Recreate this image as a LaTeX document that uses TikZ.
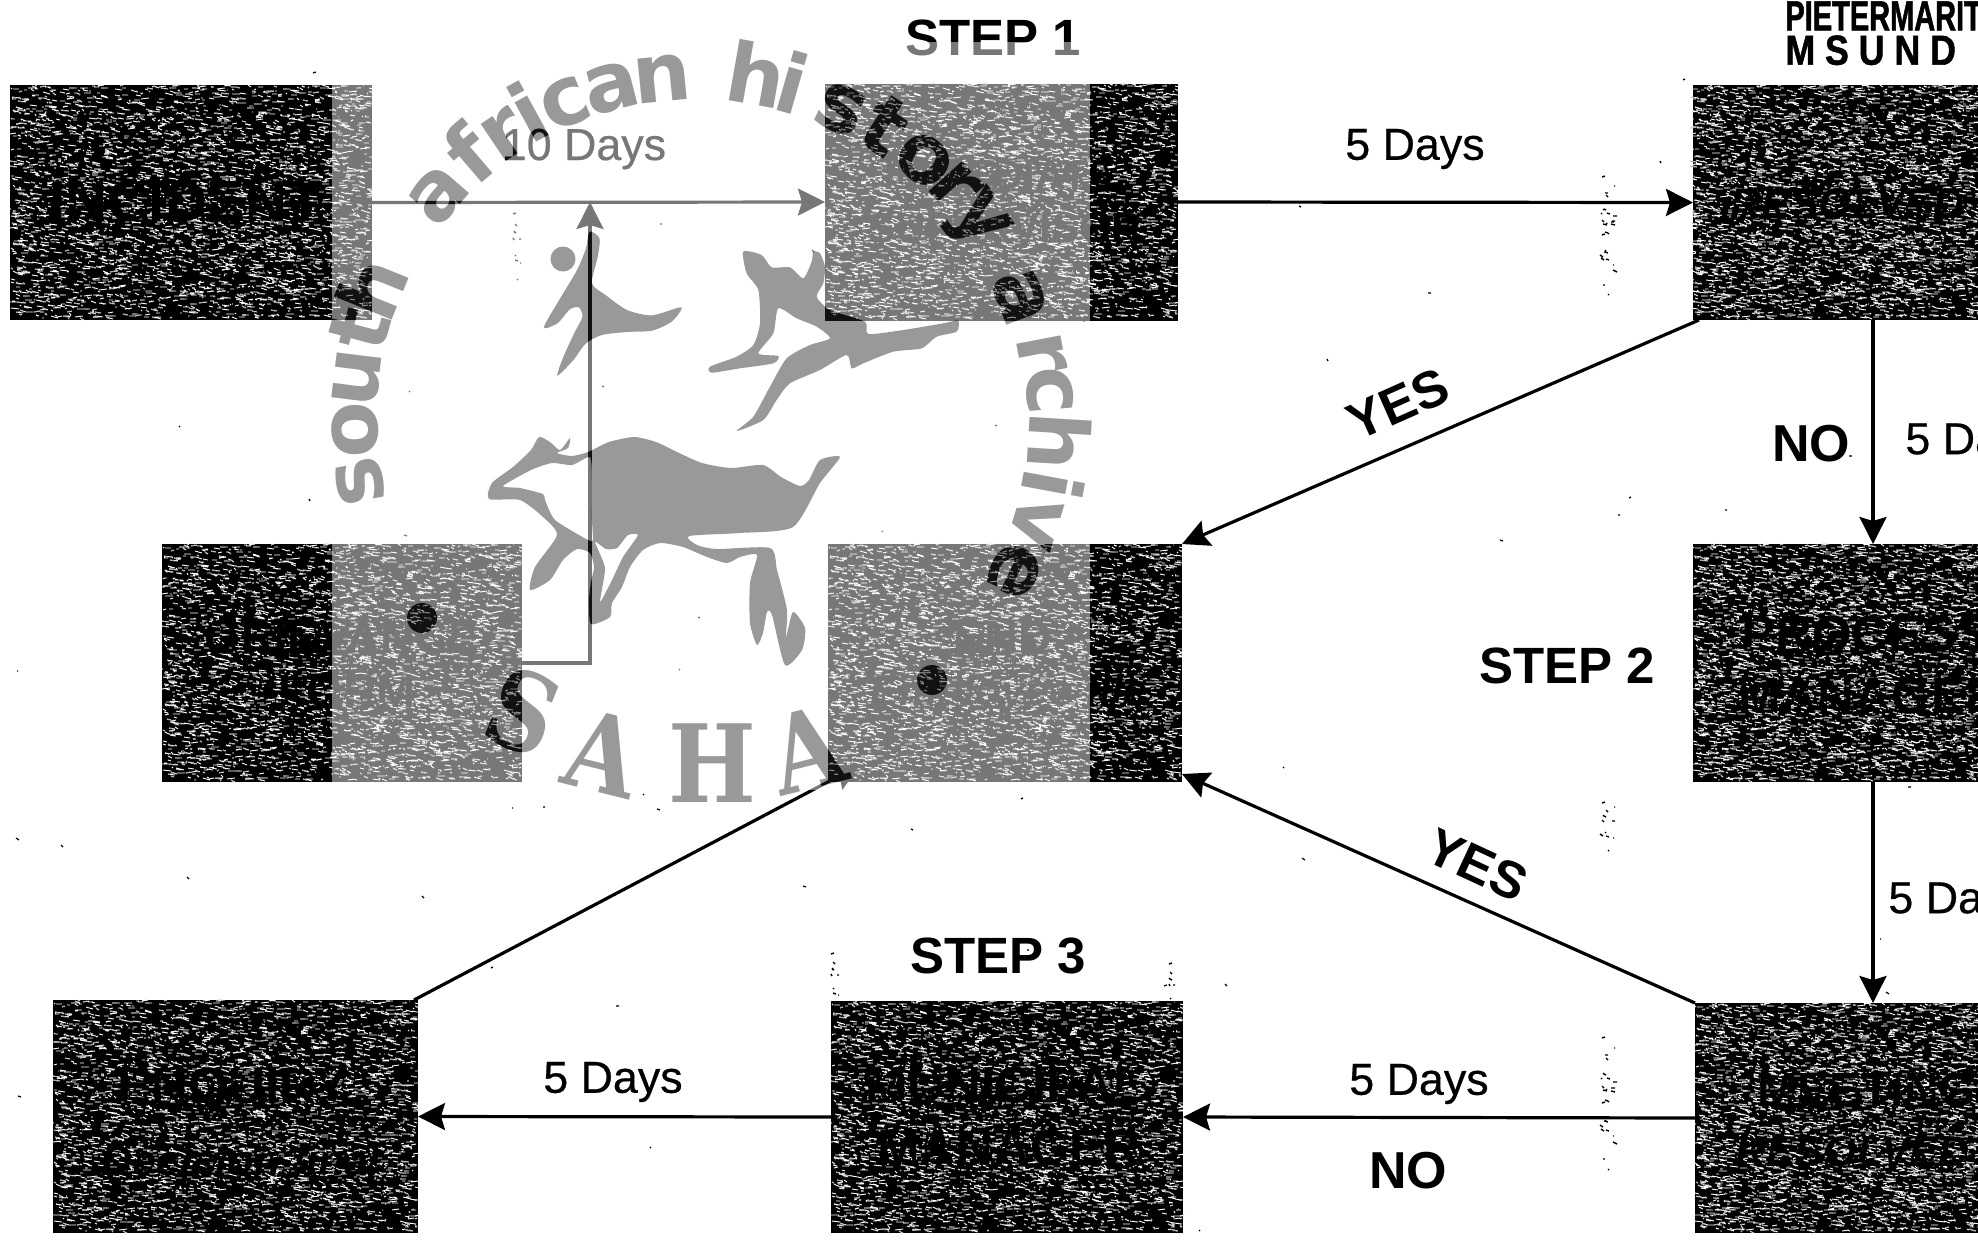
\documentclass[tikz,border=0pt]{standalone}
\usepackage{fontspec}
\usetikzlibrary{arrows.meta,calc}
\setmainfont{Liberation Sans}
\newfontfamily\daysfont[FakeBold=0.5]{Liberation Sans}
\newfontfamily\headA[FakeStretch=0.69,FakeBold=1.2]{Liberation Sans}
\newfontfamily\headB[FakeStretch=0.85,FakeBold=1.2]{Liberation Sans}
\newfontfamily\sahafont[FakeStretch=0.86]{DejaVu Serif}
\newfontfamily\wmfont{DejaVu Sans}
\definecolor{wmdiff}{HTML}{666666}
\definecolor{bandgrey}{HTML}{777777}
\definecolor{speckgrey}{HTML}{A8A8A8}
% pseudo-random speckle of short dashes (Lehmer generator, Schrage's method)
\newcount\rs \rs=20240611
\newcount\rtmp \newcount\cntA \newcount\cntX \newcount\cntY \newcount\cntL \newcount\cntZ
\def\nextr{\rtmp=\rs \divide\rtmp by 127773
 \rs=\numexpr16807*(\rs-\rtmp*127773)-2836*\rtmp\relax
 \ifnum\rs<0 \advance\rs by 2147483647 \fi}
\def\speck#1#2#3#4#5#6#7#8{%
 \begin{pgfscope}\pgfsetstrokecolor{#6}\pgfsetlinewidth{#8}%
 \cntA=#5\relax
 \loop\ifnum\cntA>0
  \nextr\cntX=\numexpr(#1)+(\rs/65536)*(#3)/32768\relax
  \nextr\cntY=\numexpr(#2)+(\rs/65536)*(#4)/32768\relax
  \nextr\cntL=\numexpr 1+(\rs/65536)*(#7)/32768\relax
  \nextr\cntZ=\numexpr(\rs/65536)*3/32768-1\relax
  \pgfpathmoveto{\pgfqpoint{\dimexpr\numexpr\cntX*32768\relax sp\relax}{\dimexpr\numexpr0-\cntY*32768\relax sp\relax}}%
  \pgfpathlineto{\pgfqpoint{\dimexpr\numexpr(\cntX+\cntL)*32768\relax sp\relax}{\dimexpr\numexpr0-(\cntY+\cntZ)*32768\relax sp\relax}}%
  \advance\cntA by -1
 \repeat
 \pgfusepath{stroke}\end{pgfscope}}
\def\boxspeck#1#2#3#4{\speck{#1}{#2}{#3}{#4}{3400}{white}{7}{0.45pt}\speck{#1}{#2}{#3}{#4}{1500}{speckgrey}{4}{0.45pt}}
\def\lightspeck#1#2#3#4{\speck{#1}{#2}{#3}{#4}{300}{white}{4}{0.4pt}}
% watermark
\newcommand{\drawwm}[1]{%
 \foreach \c/\a/\r [count=\k] in {s/190.5/319,o/181.8/319,u/173/319,t/165/319,h/158/319,a/139/319,f/130.5/319,r/124/319,i/118.7/319,c/112.4/319,a/104.3/319,n/95.7/319,h/80/319,i/74/319,s/64.8/319,t/57/320,o/48.6/323,r/41.9/325,y/35/328,a/20.6/324,r/10.8/329,c/4.5/332,h/-3.5/333,i/-10.5/333,v/-17/333,e/-25.5/331}
  \node[wmletter,text=#1,anchor=base,rotate=\a-90] (wm\k) at ({696+\r*cos(\a)},{419-\r*sin(\a)}) {\c};
 \node[wmsaha,text=#1,rotate=-22] (wmS) at (523,712) {S};
 \node[wmsaha,text=#1,rotate=-14] (wmA) at (603,753) {A};
 \node[wmsaha,text=#1] (wmH) at (712,763) {H};
 \node[wmsaha,text=#1,rotate=14] (wmB) at (807,750) {A};
 \fill[#1] (563,259) circle[radius=12.5];
 \fill[#1] (422,618) circle[radius=15];
 \fill[#1] (932,680) circle[radius=15];
 % small leaping figure
 \fill[#1,shift={(320,220)},xscale=0.357,yscale=0.3333] plot[smooth cycle,tension=.45] coordinates {(755,35)(783,55)(778,110)(762,190)(800,225)(860,270)(930,286)(1012,262)(985,305)(930,332)(860,336)(790,345)(745,370)(710,420)(665,467)(682,410)(712,340)(735,290)(725,262)(700,268)(665,310)(627,322)(670,240)(720,150)(745,85)};
 % right animal
 \fill[#1,shift={(690,230)},scale=0.3333] plot[smooth cycle,tension=.4] coordinates {(160,65)(215,75)(245,112)(300,112)(340,145)(365,95)(370,65)(390,70)(405,110)(400,160)(380,200)(420,240)(525,275)(535,312)(640,300)(760,280)(805,272)(800,305)(740,320)(695,355)(610,365)(520,400)(485,415)(470,375)(390,420)(300,460)(260,510)(220,570)(140,603)(190,560)(240,470)(290,385)(360,345)(420,325)(380,290)(320,265)(265,235)(250,310)(205,370)(265,378)(250,400)(150,415)(65,428)(60,410)(140,380)(190,345)(210,280)(205,180)(170,130)};
 % big antelope with its two holes
 \fill[#1,even odd rule]
  plot[smooth cycle,tension=.4] coordinates {(489,499)(492,483)(513,467)(531,450)(539,437)(550,442)(560,450)(570,438)(568,448)(557,453)(572,456)(588,452)(609,442)(634,437)(656,442)(677,452)(702,463)(731,468)(763,465)(781,477)(800,486)(809,480)(820,460)(840,457)(820,483)(793,527)(740,533)(689,536)(697,545)(717,549)(770,548)(777,570)(787,610)(786,637)(793,612)(805,628)(802,650)(785,665)(772,615)(767,612)(763,633)(757,645)(750,623)(750,583)(757,555)(740,557)(727,563)(707,557)(683,547)(660,543)(643,550)(630,567)(622,587)(612,603)(610,617)(591,624)(589,600)(591,582)(594,567)(590,553)(577,549)(563,560)(550,580)(530,590)(535,567)(557,535)(543,517)(520,500)}
  plot[smooth cycle,tension=.35] coordinates {(503,486)(531,470)(552,463)(572,465)(590,457)(592,480)(592,520)(593,540)(588,540)(555,520)(545,500)(543,494)(520,488)}
  plot[smooth cycle,tension=.35] coordinates {(595,542)(606,549)(617,548)(628,535)(638,535)(623,557)(612,580)(600,602)(605,568)};
}
\tikzset{
 x=0.5pt,y=-0.5pt,
 flowbox/.style={rectangle,fill=black,draw=none,inner sep=0pt,outer sep=0pt},
 conn/.style={draw=black,line width=1.6pt,-{Stealth[length=13.5pt,width=13.5pt,inset=2pt]}},
 dayslab/.style={inner sep=0pt,text=black,font=\fontsize{22.4}{24}\selectfont\daysfont},
 boldlab/.style={inner sep=0pt,text=black,font=\fontsize{26}{28}\selectfont\bfseries},
 steplab/.style={inner sep=0pt,text=black,font=\fontsize{25.5}{28}\selectfont\bfseries},
 boxtxt/.style={inner sep=0pt,text=black,font=\fontsize{25.5}{28}\selectfont\bfseries},
 boxtxtS/.style={inner sep=0pt,text=black,font=\fontsize{21}{24}\selectfont\bfseries},
 boxital/.style={inner sep=0pt,text=black,font=\fontsize{21.5}{24}\selectfont\bfseries\itshape},
 wmletter/.style={inner sep=0pt,font=\fontsize{41}{43}\selectfont\wmfont\bfseries},
 wmsaha/.style={inner sep=0pt,font=\fontsize{54}{56}\selectfont\sahafont\bfseries},
}
\begin{document}
\begin{tikzpicture}
\path[use as bounding box,clip] (0,0) rectangle (1978,1239);
\fill[white] (0,0) rectangle (1978,1239);
% boxes
\node[flowbox,minimum width=181pt,minimum height=117.5pt] (inc) at (191,202.5) {};
\node[flowbox,minimum width=176.5pt,minimum height=118.5pt] (sup) at (1001.5,202) {};
\node[flowbox,minimum width=180pt,minimum height=117.5pt] (res) at (1873,202.5) {};
\node[flowbox,minimum width=180pt,minimum height=119pt] (griev) at (342,663) {};
\node[flowbox,minimum width=177pt,minimum height=119pt] (fin) at (1005,663) {};
\node[flowbox,minimum width=180pt,minimum height=119pt] (proc) at (1873,663) {};
\node[flowbox,minimum width=182.5pt,minimum height=116.5pt] (enq) at (235.5,1116.5) {};
\node[flowbox,minimum width=176pt,minimum height=116pt] (mun) at (1007,1117) {};
\node[flowbox,minimum width=180pt,minimum height=115pt] (meet) at (1875,1118) {};
% speckle
\boxspeck{10}{85}{360}{233}
\boxspeck{825}{83}{351}{235}
\boxspeck{1690}{85}{288}{233}
\boxspeck{162}{544}{358}{236}
\boxspeck{828}{544}{352}{236}
\boxspeck{1693}{544}{285}{236}
\boxspeck{53}{1000}{363}{231}
\boxspeck{831}{1001}{350}{230}
\boxspeck{1695}{1003}{283}{228}
% box texts
\node[boxtxt,font=\fontsize{29}{30}\selectfont\bfseries] (tinc) at (186,202) {INCIDENT};
\node[boxtxtS] (tsup1) at (1000,175) {IMMEDIATE};
\node[boxtxtS] (tsup2) at (1005,228) {SUPERVISOR};
\node[boxital,anchor=west] (tres) at (1730,204) {RESOLVED};
\node[boxtxt,font=\fontsize{23.4}{25}\selectfont\bfseries] (tgr1) at (342,637) {GRIEVANCE};
\node[boxtxt,font=\fontsize{23.4}{25}\selectfont\bfseries] (tgr2) at (347,691) {FORM};
\node[boxtxt,font=\fontsize{23.4}{25}\selectfont\bfseries] (tend) at (1003,637) {END};
\node[boxital] (tfile) at (1009,694) {Employee file};
\node[boxtxt,anchor=west] (tpr1) at (1741,634) {PROCESS};
\node[boxtxt,anchor=west] (tpr2) at (1738,696) {MANAGER};
\node[boxtxt] (tmu1) at (1005,1085) {MUNICIPAL};
\node[boxtxt] (tmu2) at (1009,1148) {MANAGER};
\node[boxtxt,font=\fontsize{24}{25}\selectfont\bfseries,anchor=west] (tme1) at (1757,1090) {MEETING};
\node[boxital,anchor=west] (tme2) at (1735,1152) {RESOLVED};
\node[boxtxt] (ten1) at (233,1091) {ENQUIRY};
\node[boxital] (ten2) at (241,1160) {Decision final};
% some speckle over the text
\lightspeck{10}{85}{360}{233}
\lightspeck{825}{83}{351}{235}
\lightspeck{1690}{85}{288}{233}
\lightspeck{162}{544}{358}{236}
\lightspeck{828}{544}{352}{236}
\lightspeck{1693}{544}{285}{236}
\lightspeck{53}{1000}{363}{231}
\lightspeck{831}{1001}{350}{230}
\lightspeck{1695}{1003}{283}{228}
% scan noise
\speck{0}{0}{1978}{1239}{60}{black}{2}{0.6pt}
\speck{1600}{170}{14}{125}{28}{black}{3}{0.7pt}
\speck{1600}{800}{14}{50}{12}{black}{3}{0.7pt}
\speck{1600}{1030}{14}{140}{28}{black}{3}{0.7pt}
\speck{512}{210}{8}{70}{10}{black}{2}{0.7pt}
\speck{830}{950}{8}{60}{10}{black}{2}{0.7pt}
\speck{1168}{960}{6}{60}{10}{black}{2}{0.7pt}
% connectors
\coordinate (join) at (590,202);
\coordinate (endtip) at (860,765);
\draw[conn] (inc.east) -- (sup.west);
\draw[conn] (sup.east) -- (res.west);
\draw[conn] (griev.east) -| (join);
\draw[conn] ([xshift=3pt]res.south west) -- (fin.north east);
\draw[conn] (res.south) -- (proc.north);
\draw[conn] (proc.south) -- ([xshift=-1pt]meet.north);
\draw[conn] (meet.north west) -- ([yshift=4pt]fin.south east);
\draw[conn] (meet.west) -- (mun.east);
\draw[conn] (mun.west) -- (enq.east);
\draw[conn] ([xshift=-2pt]enq.north east) -- (endtip);
% labels
\node[steplab] (st1) at (993,38) {STEP 1};
\node[steplab] (st2) at (1567,666) {STEP 2};
\node[steplab] (st3) at (998,956) {STEP 3};
\node[dayslab] (d10) at (584,149) {10 Days};
\node[dayslab] (d5a) at (1415,149) {5 Days};
\node[dayslab] (d5b) at (1419,1084) {5 Days};
\node[dayslab] (d5c) at (613,1082) {5 Days};
\node[dayslab,anchor=west] (d5d) at (1905,439) {5 Da};
\node[dayslab,anchor=west] (d5e) at (1888,898) {5 Da};
\node[boldlab] (no1) at (1811,444) {NO};
\node[boldlab] (no2) at (1408,1171) {NO};
\node[boldlab,rotate=24] (yes1) at (1398,404) {YES};
\node[boldlab,rotate=-25] (yes2) at (1477,865) {YES};
\node[inner sep=0pt,anchor=north west,font=\fontsize{21}{22}\selectfont\headA\bfseries] (h1) at (1785,1) {PIETERMARIT};
\node[inner sep=0pt,anchor=north west,font=\fontsize{21}{22}\selectfont\headB\bfseries] (h2) at (1785,35) {M S U N D};
% watermark band and logo
\fill[bandgrey,blend mode=screen] (332,42) rectangle (1090,790);
\begin{scope}[blend mode=difference]\drawwm{wmdiff}\end{scope}
\end{tikzpicture}
\end{document}
